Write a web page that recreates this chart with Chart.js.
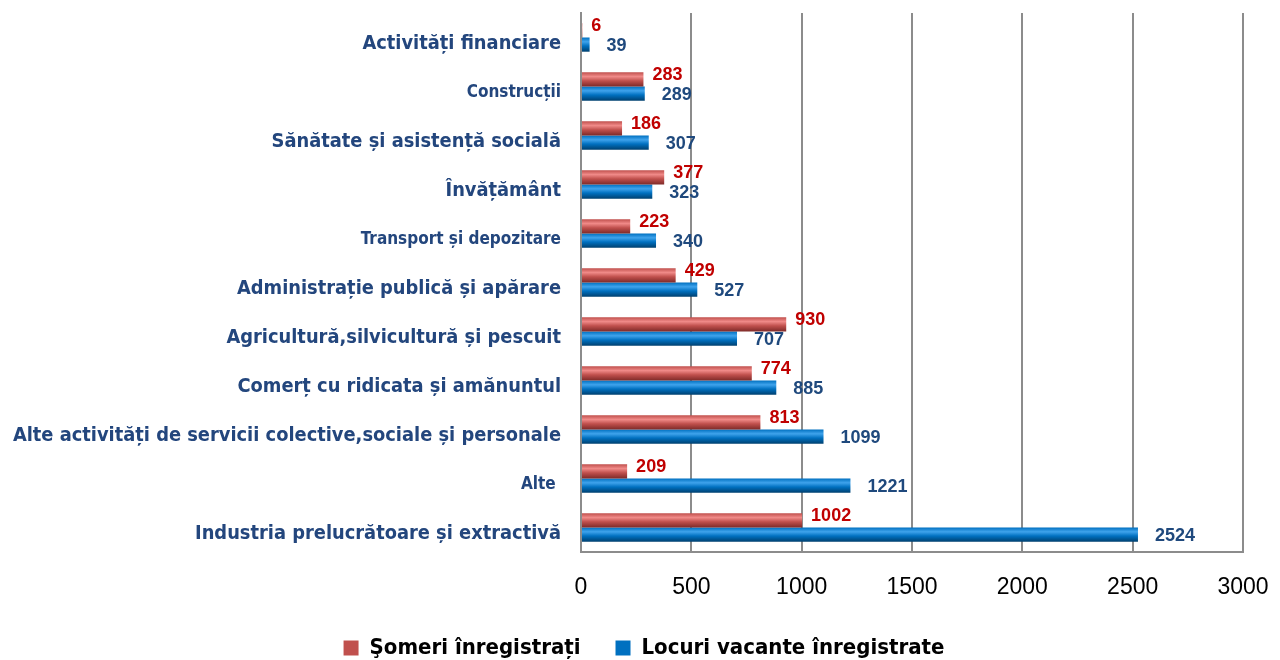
<!DOCTYPE html>
<html lang="ro">
<head>
  <meta charset="UTF-8">
  <title>Șomeri și locuri vacante pe activități</title>
  <script src="https://cdn.jsdelivr.net/npm/chart.js"></script>
  <style>
    html, body { margin: 0; padding: 0; background: #fff; }
    #wrap { width: 1280px; height: 660px; }
  </style>
</head>
<body>
<div id="wrap"><canvas id="grafic" width="1280" height="660"></canvas></div>

<script>
const categorii = [
  "Activități financiare",
  "Construcții",
  "Sănătate și asistență socială",
  "Învățământ",
  "Transport și depozitare",
  "Administrație publică și apărare",
  "Agricultură,silvicultură și pescuit",
  "Comerț cu ridicata și amănuntul",
  "Alte activități de servicii colective,sociale și personale",
  "Alte ",
  "Industria prelucrătoare și extractivă"
];
const someri = [6, 283, 186, 377, 223, 429, 930, 774, 813, 209, 1002];
const locuri = [39, 289, 307, 323, 340, 527, 707, 885, 1099, 1221, 2524];
const axaMin = 0, axaMax = 3000, pas = 500;

// etichete scrise mai mic in original
const eticheteMici = ["Construcții", "Transport și depozitare", "Alte "];

const condensat = '"DejaVu Sans Condensed", "DejaVu Sans", sans-serif';

// gradient pe fiecare bara, ca in Excel (aspect de cilindru)
function umplere(baza, deschis, inchis) {
  return (c) => {
    const meta = c.chart.getDatasetMeta(c.datasetIndex);
    const el = meta && meta.data[c.dataIndex];
    if (!el || el.y === undefined || isNaN(el.y) || !el.height) return baza;
    const h = el.height;
    const g = c.chart.ctx.createLinearGradient(0, el.y - h / 2, 0, el.y + h / 2);
    g.addColorStop(0, baza);
    g.addColorStop(0.3, deschis);
    g.addColorStop(0.6, baza);
    g.addColorStop(1, inchis);
    return g;
  };
}

const culoriValori = ["#C00000", "#1F497D"];
const deplasare = [[9, -4], [17, 1]];

const valoriPlugin = {
  id: "valori",
  afterDatasetsDraw(chart) {
    const ctx = chart.ctx;
    ctx.save();
    ctx.font = 'bold 18px "Liberation Sans", Arial, sans-serif';
    ctx.textAlign = "left";
    ctx.textBaseline = "middle";
    chart.data.datasets.forEach((ds, di) => {
      ctx.fillStyle = culoriValori[di];
      chart.getDatasetMeta(di).data.forEach((bar, i) => {
        ctx.fillText(ds.data[i], bar.x + deplasare[di][0], bar.y + deplasare[di][1]);
      });
    });
    ctx.restore();
  }
};

const chart = new Chart(document.getElementById("grafic"), {
  type: "bar",
  data: {
    labels: categorii,
    datasets: [
      {
        label: "Şomeri înregistrați",
        data: someri,
        backgroundColor: umplere("#C0504D", "#F08A88", "#7E2A28"),
        categoryPercentage: 0.58,
        barPercentage: 1
      },
      {
        label: "Locuri vacante înregistrate",
        data: locuri,
        backgroundColor: umplere("#0070C0", "#3FA3EC", "#00406F"),
        categoryPercentage: 0.58,
        barPercentage: 1
      }
    ]
  },
  options: {
    indexAxis: "y",
    responsive: false,
    animation: false,
    layout: { padding: { top: 13, right: 0, left: 8, bottom: 0 } },
    plugins: {
      tooltip: { enabled: false },
      legend: {
        position: "bottom",
        maxHeight: 58,
        labels: {
          boxWidth: 15,
          boxHeight: 15,
          padding: 35,
          color: "#1C2E5E",
          font: { family: condensat, size: 22, weight: "bold" },
          generateLabels: (ch) => ch.data.datasets.map((ds, i) => ({
            text: ds.label,
            fillStyle: ["#C0504D", "#0070C0"][i],
            strokeStyle: ["#C0504D", "#0070C0"][i],
            lineWidth: 0,
            datasetIndex: i
          }))
        }
      }
    },
    scales: {
      x: {
        min: axaMin,
        max: axaMax,
        ticks: {
          stepSize: pas,
          padding: 22,
          color: "#000",
          font: { family: '"Liberation Sans", Arial, sans-serif', size: 23 },
          callback: (v) => String(v)
        },
        grid: { color: "#8C8C8C", lineWidth: 2, drawTicks: false },
        border: { display: true, color: "#8C8C8C", width: 2 },
        afterFit: (s) => { s.height = 50; s.paddingLeft = 0; s.paddingRight = 37; }
      },
      y: {
        ticks: {
          padding: 20,
          labelOffset: 6,
          color: "#23467D",
          font: (c) => ({
            family: condensat,
            weight: "bold",
            size: eticheteMici.includes(categorii[c.index]) ? 17 : 19.85
          })
        },
        grid: { display: false, drawTicks: false },
        border: { display: true, color: "#8C8C8C", width: 2 },
        afterFit: (s) => { s.width = 573; s.paddingTop = 0; s.paddingBottom = 0; }
      }
    }
  },
  plugins: [valoriPlugin]
});

// a doua trecere: barele au acum pozitii, deci gradientul se poate calcula
chart.update();
</script>
</body>
</html>
